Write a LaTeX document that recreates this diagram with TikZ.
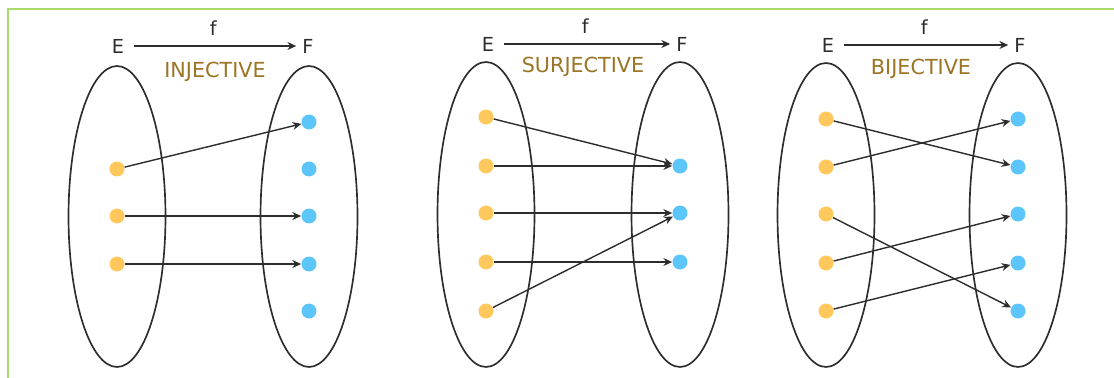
\documentclass[tikz,border=0pt]{standalone}
\usepackage{fontspec}
\setmainfont{DejaVu Sans}
\usepackage{xcolor}
\usepackage{tikz}
\usetikzlibrary{shapes.geometric,arrows.meta,positioning}
\definecolor{frameline}{RGB}{168,220,106}
\definecolor{dotE}{RGB}{255,200,92}
\definecolor{dotF}{RGB}{92,198,250}
\definecolor{kind}{RGB}{155,116,36}
\definecolor{ink}{RGB}{45,45,45}

\begin{document}
\begin{tikzpicture}[
  x=0.02cm, y=-0.02cm,
  every node/.style={font=\fontsize{11}{13}\selectfont, text=ink},
  set/.style={draw=ink, line width=0.95pt, ellipse, minimum width=1.94cm, minimum height=6.04cm, inner sep=0pt},
  src/.style={circle, fill=dotE, minimum size=0.3cm, inner sep=0pt},
  dst/.style={circle, fill=dotF, minimum size=0.3cm, inner sep=0pt},
  kindlabel/.style={text=kind, font=\fontsize{11.8}{13}\selectfont},
  arrow/.style={-{Stealth[length=5pt,width=4.5pt]}, draw=ink, line width=0.8pt}
]
  \useasboundingbox (0,0) rectangle (1114,378);
  \draw[frameline, line width=1.3pt] (1114,9) -- (8,9) -- (8,378);

  % injective
  \node[set, minimum height=6.02cm] (iE) at (117,216.5) {};
  \node[set, minimum height=6.02cm] (iF) at (309,216.5) {};
  \node (ilE) at (118,46) {E};
  \node (ilF) at (308,46) {F};
  \draw[arrow, shorten <=2pt] (ilE) -- node[above=2pt] (ilf) {f} (ilF);
  \node[kindlabel] (ikind) at (215,72) {INJECTIVE};
  \node[src] (ie1) at (117,169) {};
  \node[src] (ie2) at (117,216) {};
  \node[src] (ie3) at (117,264) {};
  \node[dst] (if1) at (309,122) {};
  \node[dst] (if2) at (309,169) {};
  \node[dst] (if3) at (309,216) {};
  \node[dst] (if4) at (309,264) {};
  \node[dst] (if5) at (309,311) {};
  \draw[arrow] (ie1) -- (if1);
  \draw[arrow] (ie2) -- (if3);
  \draw[arrow] (ie3) -- (if4);

  % surjective
  \node[set, minimum height=6.1cm] (sE) at (486,214.5) {};
  \node[set, minimum height=6.1cm] (sF) at (680,214.5) {};
  \node (slE) at (488,44) {E};
  \node (slF) at (682,44) {F};
  \draw[arrow, shorten <=2pt] (slE) -- node[above=2pt] (slf) {f} (slF);
  \node[kindlabel] (skind) at (583,67) {SURJECTIVE};
  \node[src] (se1) at (486,117) {};
  \node[src] (se2) at (486,166) {};
  \node[src] (se3) at (486,213) {};
  \node[src] (se4) at (486,262) {};
  \node[src] (se5) at (486,311) {};
  \node[dst] (sf1) at (680,166) {};
  \node[dst] (sf2) at (680,213) {};
  \node[dst] (sf3) at (680,262) {};
  \draw[arrow] (se1) -- (sf1);
  \draw[arrow] (se2) -- (sf1);
  \draw[arrow] (se3) -- (sf2);
  \draw[arrow] (se4) -- (sf3);
  \draw[arrow] (se5) -- (sf2);

  % bijective
  \node[set, minimum height=6.08cm] (bE) at (826,215) {};
  \node[set, minimum height=6.08cm] (bF) at (1018,215) {};
  \node (blE) at (828,45) {E};
  \node (blF) at (1020,45) {F};
  \draw[arrow, shorten <=2pt] (blE) -- node[above=2pt] (blf) {f} (blF);
  \node[kindlabel] (bkind) at (921,69) {BIJECTIVE};
  \node[src] (be1) at (826,119) {};
  \node[src] (be2) at (826,167) {};
  \node[src] (be3) at (826,214) {};
  \node[src] (be4) at (826,263) {};
  \node[src] (be5) at (826,311) {};
  \node[dst] (bf1) at (1018,119) {};
  \node[dst] (bf2) at (1018,167) {};
  \node[dst] (bf3) at (1018,214) {};
  \node[dst] (bf4) at (1018,263) {};
  \node[dst] (bf5) at (1018,311) {};
  \draw[arrow] (be1) -- (bf2);
  \draw[arrow] (be2) -- (bf1);
  \draw[arrow] (be3) -- (bf5);
  \draw[arrow] (be4) -- (bf3);
  \draw[arrow] (be5) -- (bf4);
\end{tikzpicture}
\end{document}
